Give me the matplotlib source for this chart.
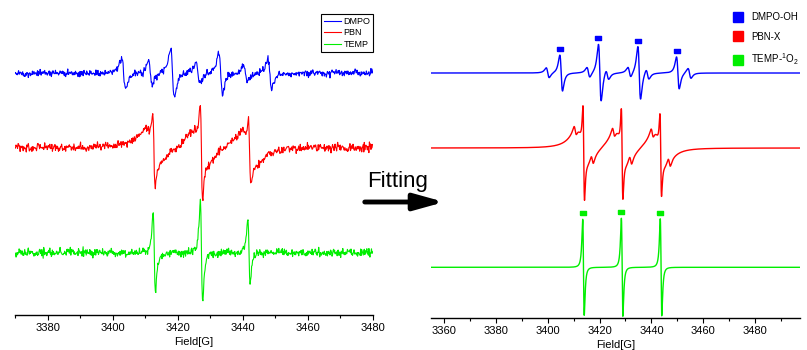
import numpy as np
import matplotlib.pyplot as plt
from matplotlib.lines import Line2D
from matplotlib.patches import FancyArrowPatch
from matplotlib.ticker import MultipleLocator

plt.rcParams['font.family'] = ['Liberation Sans', 'DejaVu Sans']

# ---- measured spectra (left) ----
meas_range = (3370, 3480)
meas_base = {'DMPO': 242, 'PBN': 167.5, 'TEMP': 62.3}
meas_noise = {'DMPO': 1.8, 'PBN': 2.0, 'TEMP': 2.0}

dmpo_pos = [3403.4, 3411.6, 3418.4, 3426.2, 3433.2, 3440.8, 3448.3]
dmpo_amp = [15, 12, 24, 11, 21, 8, 15]

pbn_pos = [3412.7, 3427.3, 3442.1]
pbn_amp = [32, 45, 28]
pbn_broad_amp = [16, 16, 16]

temp_pos = [3412.8, 3427.3, 3441.9]
temp_amp = [41, 50, 32]

# ---- simulated spectra (right) ----
fit_range = (3355, 3497.3)
fit_base = {'DMPO': 245, 'PBN': 170, 'TEMP': 50.7}

dmpooh_pos = [3405.2, 3420.1, 3435.3, 3450.2]
dmpooh_amp = [18, 28.5, 26.5, 16]
dmpor_pos = [3400.0, 3415.7, 3423.0, 3431.5, 3438.5, 3454.7]
dmpor_amp = [5, 5, 5, 5, 5, 5]

pbnx_pos = [3413.9, 3428.7, 3443.6]
pbnx_amp = [44, 42, 38]
pbnx_broad_amp = [17, 17, 17]
pbnx_sat_amp = [5, 5, 5]

tempo_pos = [3413.8, 3428.7, 3443.7]
tempo_amp = [48, 49, 48.5]

colors = {'DMPO': '#0000ff', 'PBN': '#ff0000', 'TEMP': '#00ee00'}


def deriv(x, pos, amp, w, shift=0.0):
    """first-derivative Lorentzian lines, amp = half peak-to-peak"""
    y = np.zeros_like(x)
    for c, a in zip(pos, amp):
        u = (x - c - shift) / w
        y += a * (-2 * u / (1 + u ** 2) ** 2) / 0.6495
    return y


fig = plt.figure(figsize=(8.07, 3.5), dpi=100)

# left: experimental
ax1 = fig.add_axes([15 / 807, 35 / 350, 358 / 807, 315 / 350])
xm = np.linspace(*meas_range, 700)
rng = np.random.default_rng(7)
y_dmpo = meas_base['DMPO'] + deriv(xm, dmpo_pos, dmpo_amp, 1.0)
y_pbn = (meas_base['PBN'] + deriv(xm, pbn_pos, pbn_amp, 0.6)
         + deriv(xm, pbn_pos, pbn_broad_amp, 4.0, shift=-0.4))
y_temp = meas_base['TEMP'] + deriv(xm, temp_pos, temp_amp, 0.6)
for name, y in [('DMPO', y_dmpo), ('PBN', y_pbn), ('TEMP', y_temp)]:
    y = y + rng.normal(0, meas_noise[name], xm.size)
    ax1.plot(xm, y, color=colors[name], lw=0.8, label=name)
ax1.set_xlim(*meas_range)
ax1.set_ylim(0, 315)
ax1.xaxis.set_major_locator(MultipleLocator(20))
ax1.xaxis.set_minor_locator(MultipleLocator(10))
leg1 = ax1.legend(loc='upper right', bbox_to_anchor=(373 / 807, 1 - 14 / 350),
                  bbox_transform=fig.transFigure, borderaxespad=0,
                  handlelength=1.9, handletextpad=0.3, labelspacing=0.3,
                  borderpad=0.3, fancybox=False, edgecolor='k', framealpha=1,
                  prop={'family': 'Liberation Sans', 'size': 6.5})
leg1.get_frame().set_linewidth(0.8)

# right: simulation
ax2 = fig.add_axes([431 / 807, 32 / 350, 369 / 807, 318 / 350])
xf = np.linspace(*fit_range, 5000)
f_dmpo = (fit_base['DMPO'] + deriv(xf, dmpooh_pos, dmpooh_amp, 0.9)
          + deriv(xf, dmpor_pos, dmpor_amp, 1.0))
sat_pos = [p + d for p in pbnx_pos for d in (-3.3, 3.3)]
sat_amp = [a for a in pbnx_sat_amp for _ in (0, 1)]
f_pbn = (fit_base['PBN'] + deriv(xf, pbnx_pos, pbnx_amp, 0.5)
         + deriv(xf, pbnx_pos, pbnx_broad_amp, 4.0, shift=-0.5)
         + deriv(xf, sat_pos, sat_amp, 0.8))
f_temp = fit_base['TEMP'] + deriv(xf, tempo_pos, tempo_amp, 0.5)
ax2.plot(xf, f_dmpo, color=colors['DMPO'], lw=1.0)
ax2.plot(xf, f_pbn, color=colors['PBN'], lw=1.0)
ax2.plot(xf, f_temp, color=colors['TEMP'], lw=1.0)

# small flags over the assigned lines
rect = [(-1.4, -1), (1.4, -1), (1.4, 1), (-1.4, 1), (-1.4, -1)]
for pos, curve, c in [(dmpooh_pos, f_dmpo, colors['DMPO']), (tempo_pos, f_temp, colors['TEMP'])]:
    for p in pos:
        win = (xf > p - 1.5) & (xf < p)
        i = np.argmax(curve[win])
        ax2.plot(xf[win][i], curve[win][i] + 6, marker=rect, ms=5, color=c, ls='none')

ax2.set_xlim(*fit_range)
ax2.set_ylim(0, 318)
ax2.xaxis.set_major_locator(MultipleLocator(20))
ax2.xaxis.set_minor_locator(MultipleLocator(10))
handles = [Line2D([], [], marker='s', ls='none', ms=7, color=colors[k]) for k in colors]
ax2.legend(handles, ['DMPO-OH', 'PBN-X', 'TEMP-$\\mathregular{^1}$O$\\mathregular{_2}$'],
           loc='upper left', bbox_to_anchor=(733 / 807, 1 - 12 / 350),
           bbox_transform=fig.transFigure, borderaxespad=0, borderpad=0,
           frameon=False, fontsize=7, handlelength=1, handletextpad=0.9,
           labelspacing=1.0)

for ax in (ax1, ax2):
    for s in ('top', 'right', 'left'):
        ax.spines[s].set_visible(False)
    ax.spines['bottom'].set_linewidth(1.0)
    ax.set_yticks([])
    ax.tick_params(axis='x', which='major', direction='out', length=3.5, width=0.8,
                   labelsize=8, pad=2)
    ax.tick_params(axis='x', which='minor', direction='out', length=2.5, width=0.8)
    ax.set_xlabel('Field[G]', fontsize=8, labelpad=3)

# arrow between the panels
fig.text(367 / 807, 1 - 182 / 350, 'Fitting', fontsize=16, ha='left', va='center')
fig.add_artist(FancyArrowPatch((362 / 807, 148 / 350), (447 / 807, 148 / 350),
                               transform=fig.transFigure, color='k', lw=3.5,
                               arrowstyle='-|>,head_length=18,head_width=5',
                               mutation_scale=1))

fig.savefig('out.png', dpi=100)
